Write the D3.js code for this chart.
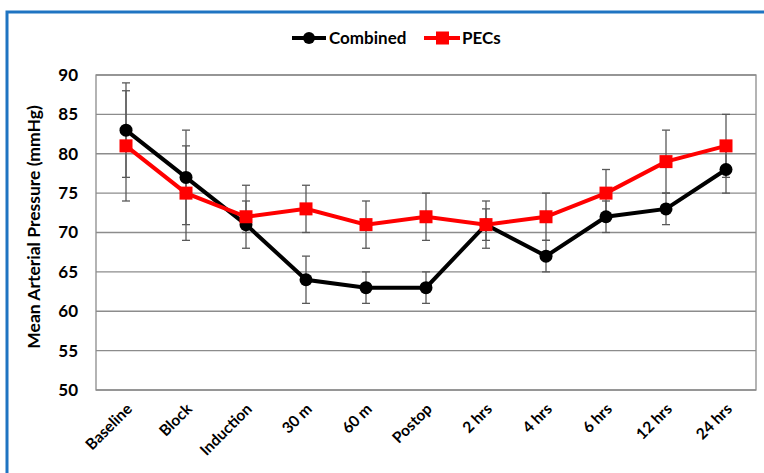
<!DOCTYPE html>
<html>
<head>
<meta charset="utf-8">
<script src="https://cdnjs.cloudflare.com/ajax/libs/d3/7.8.5/d3.min.js"></script>
<style>
  body { margin: 0; background: #fff; }
  text { font-family: Lato, "Open Sans", sans-serif; font-weight: bold; }
</style>
</head>
<body>
<svg id="chart" width="764" height="473"></svg>
<script>
// categorie sull'asse x
var tempi = ["Baseline", "Block", "Induction", "30 m", "60 m", "Postop", "2 hrs", "4 hrs", "6 hrs", "12 hrs", "24 hrs"];

// valori medi
var combined = [83, 77, 71, 64, 63, 63, 71, 67, 72, 73, 78];
var pecs = [81, 75, 72, 73, 71, 72, 71, 72, 75, 79, 81];

// barre di errore (estremi alto / basso)
var combinedHi = [89, 83, 74, 67, 65, 65, 74, 69, 74, 75, 81];
var combinedLo = [77, 71, 68, 61, 61, 61, 68, 65, 70, 71, 75];
var pecsHi = [88, 81, 76, 76, 74, 75, 73, 75, 78, 83, 85];
var pecsLo = [74, 69, 70, 70, 68, 69, 69, 69, 72, 75, 77];

var yTicks = [50, 55, 60, 65, 70, 75, 80, 85, 90];

var svg = d3.select("#chart");

// cornice blu
svg.append("path")
    .attr("d", "M7,480 L7,12 L770,12")
    .attr("fill", "none")
    .attr("stroke", "#1f74c2")
    .attr("stroke-width", 3);

var pLeft = 96, pRight = 756, pTop = 75, pBottom = 390;

var x = d3.scaleBand()
    .domain(tempi)
    .range([pLeft, pRight]);

var y = d3.scaleLinear()
    .domain([50, 90])
    .range([pBottom, pTop]);

function cx(d) { return x(d) + x.bandwidth() / 2; }

// griglia
svg.append("g")
    .selectAll("line")
    .data(yTicks)
    .enter()
    .append("line")
    .attr("x1", pLeft)
    .attr("x2", pRight)
    .attr("y1", function(d) { return y(d); })
    .attr("y2", function(d) { return y(d); })
    .attr("stroke", "#8c8c8c")
    .attr("stroke-width", 1.3);

// bordo area grafico
svg.append("rect")
    .attr("x", pLeft)
    .attr("y", pTop)
    .attr("width", pRight - pLeft)
    .attr("height", pBottom - pTop)
    .attr("fill", "none")
    .attr("stroke", "#8c8c8c")
    .attr("stroke-width", 1.3);

// asse y
var yAxis = svg.append("g")
    .attr("transform", "translate(" + pLeft + ",0)")
    .call(d3.axisLeft(y).tickValues(yTicks).tickSize(0).tickPadding(18));
yAxis.select(".domain").remove();
yAxis.selectAll("text")
    .attr("font-size", "17px")
    .attr("fill", "#000")
    .style("font-family", "Lato, sans-serif");

// asse x
var xAxis = svg.append("g")
    .attr("transform", "translate(0," + pBottom + ")")
    .call(d3.axisBottom(x).tickSize(0).tickPadding(0));
xAxis.select(".domain").remove();
xAxis.selectAll("text")
    .attr("font-size", "15.5px")
    .attr("fill", "#000")
    .attr("text-anchor", "end")
    .attr("dy", 0)
    .attr("transform", "translate(7,20) rotate(-45)")
    .style("font-family", "Lato, sans-serif");

// titolo asse y
svg.append("text")
    .attr("transform", "translate(40,227) rotate(-90)")
    .attr("text-anchor", "middle")
    .attr("font-size", "17.5px")
    .text("Mean Arterial Pressure (mmHg)");

// barre di errore
function errorBars(hi, lo) {
    var g = svg.append("g").attr("stroke", "#595959").attr("stroke-width", 1.3);
    tempi.forEach(function(t, i) {
        var xc = cx(t);
        g.append("line").attr("x1", xc).attr("x2", xc).attr("y1", y(hi[i])).attr("y2", y(lo[i]));
        g.append("line").attr("x1", xc - 4).attr("x2", xc + 4).attr("y1", y(hi[i])).attr("y2", y(hi[i]));
        g.append("line").attr("x1", xc - 4).attr("x2", xc + 4).attr("y1", y(lo[i])).attr("y2", y(lo[i]));
    });
}
errorBars(combinedHi, combinedLo);
errorBars(pecsHi, pecsLo);

var line = d3.line()
    .x(function(d, i) { return cx(tempi[i]); })
    .y(function(d) { return y(d); });

// serie Combined
svg.append("path")
    .datum(combined)
    .attr("d", line)
    .attr("fill", "none")
    .attr("stroke", "#000")
    .attr("stroke-width", 4);
svg.append("g")
    .selectAll("circle")
    .data(combined)
    .enter()
    .append("circle")
    .attr("cx", function(d, i) { return cx(tempi[i]); })
    .attr("cy", function(d) { return y(d); })
    .attr("r", 6.5)
    .attr("fill", "#000");

// serie PECs
svg.append("path")
    .datum(pecs)
    .attr("d", line)
    .attr("fill", "none")
    .attr("stroke", "#ff0000")
    .attr("stroke-width", 4);
svg.append("g")
    .selectAll("rect")
    .data(pecs)
    .enter()
    .append("rect")
    .attr("x", function(d, i) { return cx(tempi[i]) - 6.5; })
    .attr("y", function(d) { return y(d) - 6.5; })
    .attr("width", 13)
    .attr("height", 13)
    .attr("fill", "#ff0000");

// leggenda
var leg = svg.append("g");
leg.append("line").attr("x1", 292).attr("x2", 326).attr("y1", 38).attr("y2", 38)
    .attr("stroke", "#000").attr("stroke-width", 4);
leg.append("circle").attr("cx", 309).attr("cy", 38).attr("r", 6).attr("fill", "#000");
leg.append("text").attr("x", 329).attr("y", 44).attr("font-size", "17px").text("Combined");

leg.append("line").attr("x1", 424).attr("x2", 460).attr("y1", 38).attr("y2", 38)
    .attr("stroke", "#ff0000").attr("stroke-width", 4);
leg.append("rect").attr("x", 436).attr("y", 31.5).attr("width", 13).attr("height", 13).attr("fill", "#ff0000");
leg.append("text").attr("x", 462).attr("y", 44).attr("font-size", "17px").text("PECs");
</script>
</body>
</html>
